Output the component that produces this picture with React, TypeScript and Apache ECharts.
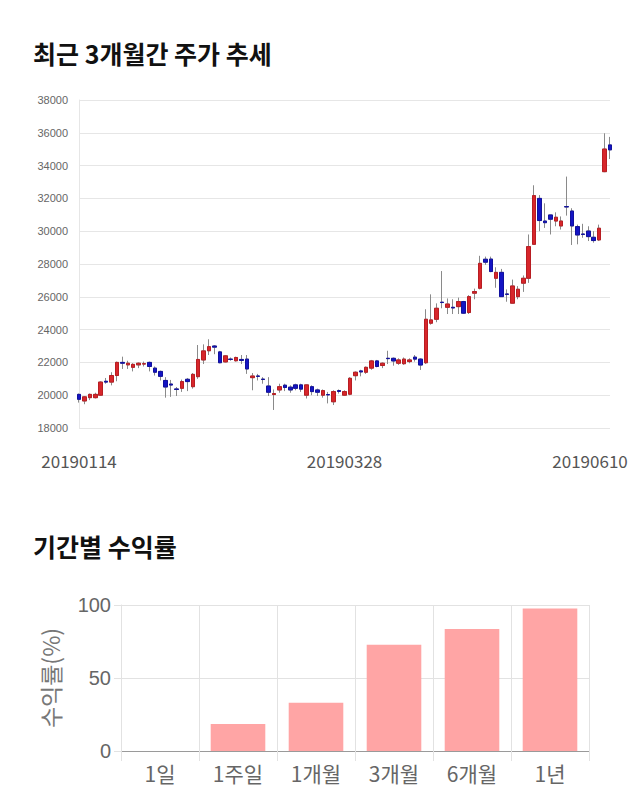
import React, { useEffect, useRef } from "react";
import * as echarts from "echarts";

const dates = [
  "20190114", "20190115", "20190116", "20190117", "20190118", "20190121", "20190122", "20190123", "20190124", "20190125",
  "20190128", "20190129", "20190130", "20190131",
  "20190201", "20190207", "20190208", "20190211", "20190212", "20190213", "20190214", "20190215", "20190218", "20190219",
  "20190220", "20190221", "20190222", "20190225", "20190226", "20190227", "20190228",
  "20190304", "20190305", "20190306", "20190307", "20190308", "20190311", "20190312", "20190313", "20190314", "20190315",
  "20190318", "20190319", "20190320", "20190321", "20190322", "20190325", "20190326", "20190327", "20190328", "20190329",
  "20190401", "20190402", "20190403", "20190404", "20190405", "20190408", "20190409", "20190410", "20190411", "20190412",
  "20190415", "20190416", "20190417", "20190418", "20190419", "20190422", "20190423", "20190424", "20190425", "20190426",
  "20190429", "20190430",
  "20190502", "20190503", "20190507", "20190508", "20190509", "20190510", "20190513", "20190514", "20190515", "20190516",
  "20190517", "20190520", "20190521", "20190522", "20190523", "20190524", "20190527", "20190528", "20190529", "20190530",
  "20190531",
  "20190603", "20190604", "20190605", "20190607", "20190610",
];

const openPrices = [
  20050, 19650, 19850, 19850, 20000, 20850, 20800, 21200, 22000, 21850,
  21700, 21850, 21900, 22000, 21650, 21450, 20900, 20680, 20380, 20420,
  20970, 20520, 21130, 22150, 22710, 23000, 22640, 22030, 22200, 22100,
  22180, 22200, 21070, 21170, 20980, 20560, 20040, 20320, 20610, 20490,
  20630, 20630, 20000, 20520, 20320, 20000, 20040, 19600, 20280, 20000,
  20060, 21190, 21480, 21400, 21650, 22090, 21810, 22250, 22250, 21950,
  21920, 22050, 22320, 22200, 21980, 24390, 24630, 25670, 25360, 25360,
  25400, 25710, 25040, 26220, 26520, 28290, 28300, 27130, 27490, 26170,
  25610, 26010, 26830, 27130, 29200, 32000, 30620, 30990, 30620, 30320,
  31500, 31230, 30280, 29830, 30010, 29630, 29470, 33630, 35260,
];
const closePrices = [
  19750, 19900, 20050, 20050, 20800, 20800, 21200, 22000, 21950, 21950,
  21880, 21950, 21920, 21750, 21400, 21150, 20500, 20620, 20350, 20830,
  20830, 21270, 22180, 22700, 22960, 22930, 21980, 22400, 22180, 22300,
  22120, 21600, 21170, 21150, 20960, 20180, 20100, 20520, 20470, 20320,
  20420, 20370, 20630, 20220, 20180, 20280, 20020, 20220, 20230, 20220,
  21030, 21400, 21420, 21700, 22090, 21750, 21950, 22230, 22090, 22150,
  22200, 22150, 22200, 21840, 24630, 24590, 25300, 25650, 25560, 25320,
  25710, 25000, 26010, 26320, 28040, 28110, 27540, 27490, 26010, 26150,
  26660, 26460, 27130, 29060, 32170, 30650, 30520, 30730, 30850, 30620,
  31480, 30320, 29770, 29800, 29670, 29430, 30180, 35010, 34960,
];
const lowPrices = [
  19550, 19450, 19700, 19800, 19950, 20700, 20600, 20850, 21600, 21600,
  21450, 21650, 21750, 21450, 21200, 20900, 19850, 19900, 19950, 20200,
  20250, 20400, 21000, 21900, 22450, 22500, 21950, 22000, 22100, 22050,
  21900, 21300, 20300, 20900, 20700, 19950, 19100, 20150, 20250, 20150,
  20300, 20200, 19800, 20000, 19950, 19850, 19500, 19400, 20100, 19950,
  20000, 20900, 21150, 21300, 21550, 21700, 21650, 21900, 21800, 21850,
  21850, 21950, 22050, 21540, 21900, 24300, 24450, 25300, 24950, 24950,
  24950, 24950, 24950, 25850, 26450, 27950, 27500, 26550, 26000, 25700,
  25600, 25850, 26300, 26850, 29200, 30000, 30200, 29800, 30300, 30100,
  30950, 29160, 29200, 29600, 29400, 29300, 29400, 33600, 34400,
];
const highPrices = [
  20100, 19950, 20100, 20150, 20850, 21050, 21400, 22050, 22350, 22100,
  21950, 22000, 22050, 22050, 21750, 21500, 21100, 20930, 20500, 20950,
  21050, 21350, 23060, 23100, 23410, 23050, 22700, 22450, 22300, 22350,
  22450, 22450, 21350, 21300, 21100, 21100, 20350, 20700, 20700, 20600,
  20700, 20700, 20650, 20600, 20400, 20350, 20200, 20300, 20350, 20300,
  21100, 21450, 21550, 21750, 22150, 22150, 22000, 22710, 22300, 22250,
  22300, 22250, 22450, 22250, 25240, 26150, 25600, 27570, 25900, 25850,
  25950, 25750, 26100, 26500, 28500, 28450, 28450, 27800, 27700, 26450,
  27050, 26650, 27300, 29800, 32800, 32200, 31700, 31000, 31150, 30900,
  33330, 31400, 30400, 30450, 30300, 30000, 30400, 35970, 35750,
];

const periodLabels = ["1일", "1주일", "1개월", "3개월", "6개월", "1년"];
const periodReturns = [0, 18.5, 33.0, 72.8, 83.5, 97.6];

const KR = "'Noto Sans CJK KR', 'Noto Sans', sans-serif";
const LATIN = "'Liberation Sans', Arial, sans-serif";

export default function App() {
  const ref = useRef<HTMLDivElement>(null);

  useEffect(() => {
    if (!ref.current) return;
    const chart = echarts.init(ref.current, null, { renderer: "svg" });

    const wickData = dates.map((_, i) => [openPrices[i], closePrices[i], lowPrices[i], highPrices[i]]);
    const bodyData = dates.map((_, i) => [
      openPrices[i],
      closePrices[i],
      Math.min(openPrices[i], closePrices[i]),
      Math.max(openPrices[i], closePrices[i]),
    ]);

    chart.setOption({
      animation: false,
      backgroundColor: "#ffffff",
      title: [
        {
          text: "최근 3개월간 주가 추세",
          left: 28,
          top: 35,
          textStyle: { fontFamily: KR, fontSize: 25, fontWeight: "bold", color: "#111111" },
        },
        {
          text: "기간별 수익률",
          left: 28,
          top: 528,
          textStyle: { fontFamily: KR, fontSize: 25, fontWeight: "bold", color: "#111111" },
        },
      ],
      grid: [
        { left: 79, top: 100, width: 531, height: 328, containLabel: false },
        { left: 121, top: 605, width: 468, height: 146, containLabel: false },
      ],
      xAxis: [
        {
          gridIndex: 0,
          type: "category",
          data: dates,
          boundaryGap: false,
          axisLine: { show: false },
          axisTick: { show: false },
          splitLine: { show: false },
          axisLabel: {
            interval: 48,
            margin: 24,
            fontFamily: KR,
            fontSize: 17,
            color: "#555555",
            formatter: (v: string, idx: number) => (idx === dates.length - 1 ? "{last|" + v + "}" : v),
            rich: {
              last: { fontFamily: KR, fontSize: 17, color: "#555555", padding: [0, 40, 0, 0] },
            },
          },
        },
        {
          gridIndex: 1,
          type: "category",
          data: periodLabels,
          axisLine: { show: true, lineStyle: { color: "#9a9a9a", width: 1 } },
          axisTick: { show: true, length: 10, lineStyle: { color: "#e2e2e2" } },
          splitLine: { show: true, lineStyle: { color: "#e2e2e2" } },
          axisLabel: { margin: 11, fontFamily: KR, fontSize: 21, color: "#666666" },
        },
      ],
      yAxis: [
        {
          gridIndex: 0,
          type: "value",
          min: 18000,
          max: 38000,
          interval: 2000,
          axisLine: { show: true, lineStyle: { color: "#e6e6e6" } },
          axisTick: { show: false },
          splitLine: { show: true, lineStyle: { color: "#e6e6e6" } },
          axisLabel: {
            margin: 11,
            fontFamily: LATIN,
            fontSize: 11,
            color: "#666666",
            formatter: (v: number) => String(v),
          },
        },
        {
          gridIndex: 1,
          type: "value",
          min: 0,
          max: 100,
          interval: 50,
          name: "수익률(%)",
          nameLocation: "middle",
          nameRotate: 90,
          nameGap: 60,
          nameTextStyle: { fontFamily: KR, fontSize: 23, color: "#777777" },
          axisLine: { show: true, lineStyle: { color: "#e2e2e2" } },
          axisTick: { show: true, length: 7, lineStyle: { color: "#e2e2e2" } },
          splitLine: { show: true, lineStyle: { color: "#e2e2e2" } },
          axisLabel: { margin: 10, fontFamily: LATIN, fontSize: 20, color: "#666666" },
        },
      ],
      series: [
        {
          type: "candlestick",
          xAxisIndex: 0,
          yAxisIndex: 0,
          data: wickData,
          barWidth: 4,
          clip: false,
          itemStyle: {
            color: "transparent",
            color0: "transparent",
            borderColor: "#8a8a8a",
            borderColor0: "#8a8a8a",
            borderWidth: 1,
          },
        },
        {
          type: "candlestick",
          xAxisIndex: 0,
          yAxisIndex: 0,
          data: bodyData,
          barWidth: 4,
          clip: false,
          itemStyle: {
            color: "#d7262b",
            color0: "#1414c4",
            borderColor: "#b81d22",
            borderColor0: "#10109e",
            borderWidth: 1,
          },
        },
        {
          type: "bar",
          xAxisIndex: 1,
          yAxisIndex: 1,
          data: periodReturns,
          barWidth: "70%",
          itemStyle: { color: "#ffa5a5", borderWidth: 0 },
        },
      ],
    });

    return () => chart.dispose();
  }, []);

  return (
    <div
      ref={ref}
      style={{ position: "absolute", left: 0, top: 0, width: 640, height: 810, background: "#ffffff" }}
    />
  );
}
